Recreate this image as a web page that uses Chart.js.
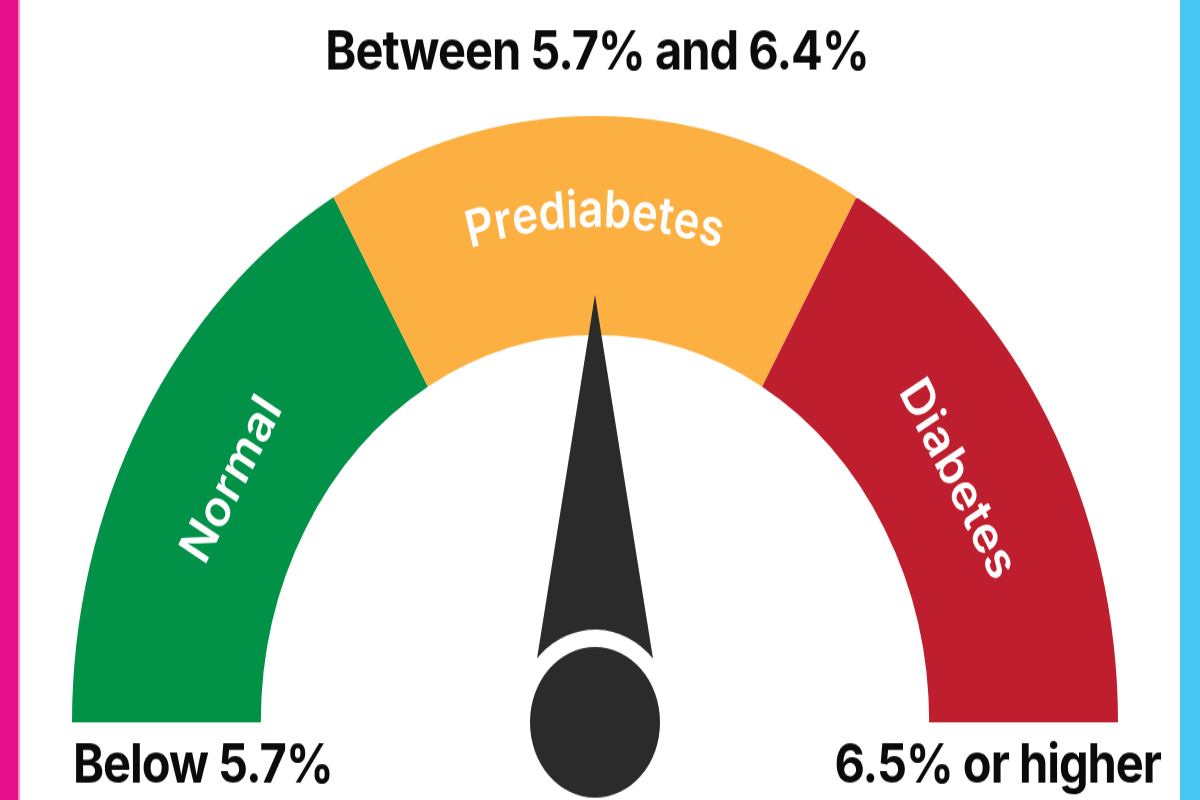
<!DOCTYPE html>
<html>
<head>
<meta charset="utf-8">
<script src="https://cdn.jsdelivr.net/npm/chart.js@4.4.1/dist/chart.umd.min.js"></script>
<style>
  html, body { margin: 0; padding: 0; background: #ffffff; overflow: hidden; }
  #page { position: relative; width: 1200px; height: 800px; overflow: hidden; background: #ffffff; }
  #wrap { position: absolute; left: 0; top: 0; width: 1200px; height: 690px;
          transform: scaleY(1.15942); transform-origin: 0 0; }
  .barL { position: absolute; left: 0; top: 0; width: 18px; height: 800px; background: #E5108A; }
  .barL2 { position: absolute; left: 18px; top: 0; width: 2px; height: 800px; background: #F390C2; }
  .barR { position: absolute; right: 0; top: 0; width: 20px; height: 800px; background: #47C6F1; }
</style>
</head>
<body>
<div id="page">
  <div id="wrap"><canvas id="gauge"></canvas></div>
  <div class="barL"></div><div class="barL2"></div><div class="barR"></div>
</div>
<script>
// ---- data ----
const categories = ["Normal", "Prediabetes", "Diabetes"];
const segmentSpans = [1, 1, 1];
const rangeLabels = ["Below 5.7%", "Between 5.7% and 6.4%", "6.5% or higher"];
const needleValue = 1.5; // position along the gauge, in segment units
const segmentColors = ["#029247", "#FBB041", "#BE1E2E"];

const gaugeOverlay = {
  id: 'gaugeOverlay',
  afterDatasetsDraw(chart) {
    const ctx = chart.ctx;
    const meta = chart.getDatasetMeta(0);
    const arcs = meta.data;
    const cx = arcs[0].x, cy = arcs[0].y;
    const R = arcs[0].outerRadius, r = arcs[0].innerRadius;
    const rmid = (R + r) / 2;

    // segment labels
    ctx.save();
    ctx.fillStyle = '#ffffff';
    ctx.font = '600 44px Inter';
    ctx.textAlign = 'center';
    ctx.textBaseline = 'middle';
    arcs.forEach((arc, i) => {
      const mid = (arc.startAngle + arc.endAngle) / 2;
      const text = categories[i];
      if (i === 1) {
        // curved along the arc
        const rm = rmid + 12;
        const spacing = 0.5;
        const widths = [...text].map(ch => ctx.measureText(ch).width + spacing);
        const total = widths.reduce((a, b) => a + b, 0) - spacing;
        let acc = -total / 2;
        [...text].forEach((ch, k) => {
          const w = widths[k] - spacing;
          const a = mid + (acc + w / 2) / rm;
          ctx.save();
          ctx.translate(cx + rm * Math.cos(a), cy + rm * Math.sin(a));
          ctx.rotate(a + Math.PI / 2);
          ctx.fillText(ch, 0, 0);
          ctx.restore();
          acc += widths[k];
        });
      } else {
        const rm = rmid - 10;
        ctx.save();
        ctx.translate(cx + rm * Math.cos(mid), cy + rm * Math.sin(mid));
        ctx.rotate(mid + Math.PI / 2);
        ctx.letterSpacing = '0.5px';
        ctx.fillText(text, 0, 0);
        ctx.restore();
      }
    });
    ctx.restore();

    // needle
    const total = segmentSpans.reduce((a, b) => a + b, 0);
    const a = -Math.PI + (needleValue / total) * Math.PI;
    const L = 0.705 * R;
    const rb = 0.153 * R;
    const half = 0.811;
    const hub = 0.1243 * R;
    ctx.save();
    ctx.fillStyle = '#2B2B2B';
    ctx.beginPath();
    ctx.moveTo(cx + L * Math.cos(a), cy + L * Math.sin(a));
    ctx.lineTo(cx + rb * Math.cos(a + half), cy + rb * Math.sin(a + half));
    ctx.arc(cx, cy, rb, a + half, a - half, true);
    ctx.closePath();
    ctx.fill();
    ctx.beginPath();
    ctx.arc(cx, cy, hub, 0, Math.PI * 2);
    ctx.fill();
    ctx.restore();

    // range labels
    ctx.save();
    ctx.fillStyle = '#0b0b0b';
    ctx.font = '700 47px Inter';
    ctx.letterSpacing = '-1px';
    ctx.textBaseline = 'alphabetic';
    ctx.textAlign = 'center';
    ctx.fillText(rangeLabels[1], 597, 60);
    ctx.textAlign = 'left';
    ctx.fillText(rangeLabels[0], 73, 675);
    ctx.textAlign = 'right';
    ctx.fillText(rangeLabels[2], 1161, 675);
    ctx.restore();
  }
};

new Chart(document.getElementById('gauge'), {
  type: 'doughnut',
  data: {
    labels: categories,
    datasets: [{
      data: segmentSpans,
      backgroundColor: segmentColors,
      borderWidth: 0,
      hoverOffset: 0
    }]
  },
  options: {
    responsive: true,
    maintainAspectRatio: false,
    animation: false,
    events: [],
    rotation: -90,
    circumference: 180,
    cutout: '63.9%',
    layout: { padding: { left: 72, right: 82, top: 100, bottom: 67 } },
    plugins: { legend: { display: false }, tooltip: { enabled: false } }
  },
  plugins: [gaugeOverlay]
});
</script>
</body>
</html>
